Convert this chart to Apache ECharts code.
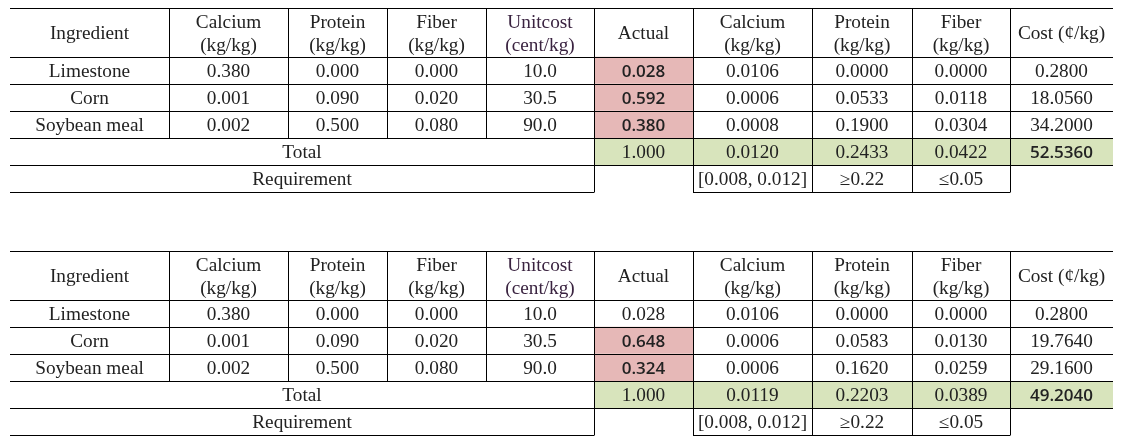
<!DOCTYPE html>
<html>
<head>
<meta charset="utf-8">
<script src="https://cdn.jsdelivr.net/npm/echarts@6/dist/echarts.min.js"></script>
<style>html,body{margin:0;padding:0;background:#fff}#chart{width:1125px;height:443px}</style>
</head>
<body>
<div id="chart"></div>
<script>
// ---- data ----
const headers = ['Ingredient', 'Calcium\n(kg/kg)', 'Protein\n(kg/kg)', 'Fiber\n(kg/kg)', 'Unitcost\n(cent/kg)', 'Actual', 'Calcium\n(kg/kg)', 'Protein\n(kg/kg)', 'Fiber\n(kg/kg)', 'Cost (¢/kg)'];
const ingredients = ['Limestone', 'Corn', 'Soybean meal'];
const calciumContent = [0.380, 0.001, 0.002];
const proteinContent = [0.000, 0.090, 0.500];
const fiberContent = [0.000, 0.020, 0.080];
const unitCost = [10.0, 30.5, 90.0];
const requirementLabels = ['[0.008, 0.012]', '≥0.22', '≤0.05'];

const actual1 = [0.028, 0.592, 0.380];
const calcium1 = [0.0106, 0.0006, 0.0008];
const protein1 = [0.0000, 0.0533, 0.1900];
const fiber1 = [0.0000, 0.0118, 0.0304];
const cost1 = [0.2800, 18.0560, 34.2000];
const total1 = [1.000, 0.0120, 0.2433, 0.0422, 52.5360];
const changed1 = [true, true, true];

const actual2 = [0.028, 0.648, 0.324];
const calcium2 = [0.0106, 0.0006, 0.0006];
const protein2 = [0.0000, 0.0583, 0.1620];
const fiber2 = [0.0000, 0.0130, 0.0259];
const cost2 = [0.2800, 19.7640, 29.1600];
const total2 = [1.000, 0.0119, 0.2203, 0.0389, 49.2040];
const changed2 = [false, true, true];

// ---- layout (styles only) ----
const colWidths = [159, 119, 99, 99, 108, 99, 119, 100, 98, 103];
const rowHeights = [1.8, 1, 1, 1, 1, 1];
const cumX = [0]; colWidths.forEach(w => cumX.push(cumX[cumX.length - 1] + w));
const cumY = [0]; rowHeights.forEach(h => cumY.push(cumY[cumY.length - 1] + h));
const PINK = '#E6B8B7', GREEN = '#D8E4BC';
const SERIF = '"Liberation Serif", "DejaVu Serif", serif';
const SANS = '"Open Sans", "Noto Sans", sans-serif';

function buildCells(actual, calcium, protein, fiber, cost, total, changed) {
  const cells = [];
  headers.forEach((h, c) => cells.push({ c0: c, c1: c + 1, r: 0, text: h, top: true, purple: c === 4 }));
  ingredients.forEach((name, i) => {
    const r = i + 1;
    const vals = [name, calciumContent[i].toFixed(3), proteinContent[i].toFixed(3), fiberContent[i].toFixed(3),
      unitCost[i].toFixed(1), actual[i].toFixed(3), calcium[i].toFixed(4), protein[i].toFixed(4),
      fiber[i].toFixed(4), cost[i].toFixed(4)];
    vals.forEach((v, c) => {
      const cell = { c0: c, c1: c + 1, r: r, text: v };
      if (c === 5 && changed[i]) { cell.fill = PINK; cell.bold = true; }
      cells.push(cell);
    });
  });
  cells.push({ c0: 0, c1: 5, r: 4, text: 'Total' });
  cells.push({ c0: 5, c1: 6, r: 4, text: total[0].toFixed(3), fill: GREEN });
  for (let k = 1; k <= 3; k++) cells.push({ c0: 5 + k, c1: 6 + k, r: 4, text: total[k].toFixed(4), fill: GREEN });
  cells.push({ c0: 9, c1: 10, r: 4, text: total[4].toFixed(4), fill: GREEN, bold: true });
  cells.push({ c0: 0, c1: 5, r: 5, text: 'Requirement' });
  cells.push({ c0: 5, c1: 6, r: 5, text: '', noBottom: true });
  requirementLabels.forEach((t, k) => cells.push({ c0: 6 + k, c1: 7 + k, r: 5, text: t }));
  cells.push({ c0: 9, c1: 10, r: 5, text: '', noBottom: true });
  return cells;
}

const tables = [
  buildCells(actual1, calcium1, protein1, fiber1, cost1, total1, changed1),
  buildCells(actual2, calcium2, protein2, fiber2, cost2, total2, changed2)
];

const snap = v => Math.round(v) + 0.5;

function fillRender(cells) {
  return function (params, api) {
    const cell = cells[params.dataIndex];
    if (!cell.fill) return null;
    const p0 = api.coord([api.value(0), api.value(1)]);
    const p1 = api.coord([api.value(2), api.value(3)]);
    return { type: 'rect', shape: { x: p0[0], y: p0[1], width: p1[0] - p0[0], height: p1[1] - p0[1] }, style: { fill: cell.fill } };
  };
}

function cellRender(cells) {
  return function (params, api) {
    const cell = cells[params.dataIndex];
    const p0 = api.coord([api.value(0), api.value(1)]);
    const p1 = api.coord([api.value(2), api.value(3)]);
    const x0 = snap(p0[0]), x1 = snap(p1[0]), y0 = snap(p0[1]), y1 = snap(p1[1]);
    const children = [];
    const ls = { stroke: '#000', lineWidth: 1 };
    if (cell.top) children.push({ type: 'line', shape: { x1: p0[0], y1: y0, x2: p1[0], y2: y0 }, style: ls });
    if (!cell.noBottom) children.push({ type: 'line', shape: { x1: p0[0], y1: y1, x2: p1[0], y2: y1 }, style: ls });
    if (cell.c1 < colWidths.length) children.push({ type: 'line', shape: { x1: x1, y1: y0, x2: x1, y2: y1 }, style: ls });
    if (cell.text) {
      children.push({
        type: 'text',
        x: (p0[0] + p1[0]) / 2,
        y: (p0[1] + p1[1]) / 2 + 2,
        scaleX: cell.bold ? 1.0 : 1.07,
        style: {
          text: cell.text,
          x: 0,
          y: 0,
          align: 'center',
          verticalAlign: 'middle',
          fontFamily: cell.bold ? SANS : SERIF,
          fontWeight: cell.bold ? 600 : 'normal',
          fontSize: cell.bold ? 17 : 18,
          lineHeight: 23,
          fill: cell.purple ? '#3a2340' : '#222'
        }
      });
    }
    return { type: 'group', children: children };
  };
}

const grids = [
  { left: 10, top: 8, width: 1103, height: 184 },
  { left: 10, top: 251, width: 1103, height: 184 }
];

const option = {
  animation: false,
  backgroundColor: '#fff',
  grid: grids,
  xAxis: grids.map((g, i) => ({ type: 'value', gridIndex: i, min: 0, max: cumX[cumX.length - 1], show: false })),
  yAxis: grids.map((g, i) => ({ type: 'value', gridIndex: i, min: 0, max: cumY[cumY.length - 1], inverse: true, show: false })),
  series: []
};

tables.forEach((cells, i) => {
  const data = cells.map(c => [cumX[c.c0], cumY[c.r], cumX[c.c1], cumY[c.r + 1]]);
  option.series.push({ type: 'custom', xAxisIndex: i, yAxisIndex: i, z: 1, silent: true, clip: false,
    encode: { x: [0, 2], y: [1, 3] }, renderItem: fillRender(cells), data: data });
  option.series.push({ type: 'custom', xAxisIndex: i, yAxisIndex: i, z: 3, silent: true, clip: false,
    encode: { x: [0, 2], y: [1, 3] }, renderItem: cellRender(cells), data: data });
});

const chart = echarts.init(document.getElementById('chart'), null, { renderer: 'canvas' });
chart.setOption(option);
</script>
</body>
</html>
